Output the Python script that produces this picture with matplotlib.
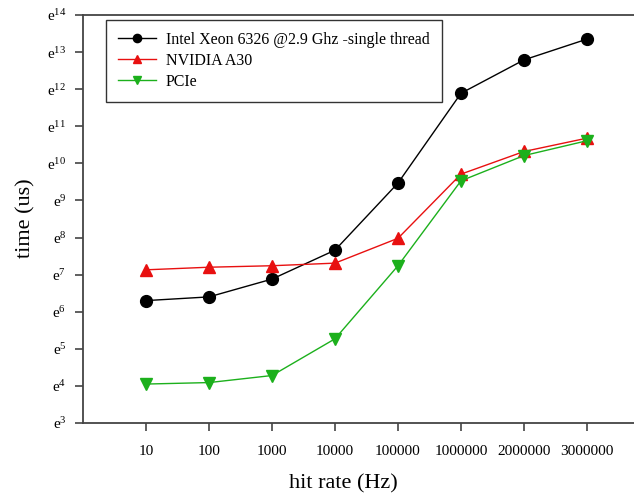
import numpy as np
import matplotlib
matplotlib.use("Agg")
import matplotlib.pyplot as plt
from matplotlib.ticker import FixedLocator, FuncFormatter, NullLocator

# ----------------------------------------------------------------------------
#  DATA  (in ln(us))
# ----------------------------------------------------------------------------
hit_rates = ['10', '100', '1000', '10000', '100000', '1000000', '2000000', '3000000']
cpu_ln    = [6.30, 6.40, 6.88, 7.66, 9.47, 11.89, 12.79, 13.35]
gpu_ln    = [7.13, 7.20, 7.24, 7.31, 7.98, 9.71, 10.32, 10.68]
pcie_ln   = [4.05, 4.09, 4.28, 5.27, 7.24, 9.53, 10.21, 10.61]
series_labels = ['Intel Xeon 6326 @2.9 Ghz -single thread', 'NVIDIA A30', 'PCIe']
y_exponents = list(range(3, 15))

# ----------------------------------------------------------------------------
#  PLOT
# ----------------------------------------------------------------------------
plt.rcParams['font.family'] = ['Liberation Serif', 'DejaVu Serif']
plt.rcParams['mathtext.fontset'] = 'custom'
plt.rcParams['mathtext.rm'] = 'Liberation Serif'
plt.rcParams['mathtext.it'] = 'Liberation Serif:italic'

fig = plt.figure(figsize=(6.34, 4.95), dpi=100)
# axes runs past the right edge of the picture, as in the original crop
ax = fig.add_axes([83/634, 72/495, 567/634, 408/495])

x = np.arange(len(hit_rates))
ax.plot(x, np.exp(cpu_ln), color='black', marker='o', markersize=8.5, lw=1.0,
        label=series_labels[0])
ax.plot(x, np.exp(gpu_ln), color='#e81010', marker='^', markersize=8, lw=1.0,
        label=series_labels[1])
ax.plot(x, np.exp(pcie_ln), color='#1cb01c', marker='v', markersize=8, lw=1.0,
        label=series_labels[2])

ax.set_yscale('log', base=np.e)
ax.set_ylim(np.exp(3), np.exp(14))
ax.yaxis.set_major_locator(FixedLocator(np.exp(y_exponents)))
ax.yaxis.set_minor_locator(NullLocator())
ax.yaxis.set_major_formatter(FuncFormatter(
    lambda v, p: 'e$^{%d}$' % int(round(np.log(v)))))

ax.set_xlim(-1, len(hit_rates))
ax.set_xticks(x)
ax.set_xticklabels(hit_rates)

ax.tick_params(axis='both', direction='out', length=6, width=1.2,
               color='#444444', labelsize=11, pad=6)
ax.tick_params(axis='x', pad=10)
for side in ['left', 'bottom', 'top', 'right']:
    ax.spines[side].set_linewidth(1.3)
    ax.spines[side].set_color('#444444')

ax.set_xlabel('hit rate (Hz)', fontsize=16)
ax.set_ylabel('time (us)', fontsize=16)
ax.xaxis.set_label_coords(0.46, -0.125)
ax.yaxis.set_label_coords(-0.083, 0.502)

leg = ax.legend(loc='upper left', bbox_to_anchor=(23/567, 1 - 5/408),
                borderaxespad=0, fontsize=11.5, frameon=True, fancybox=False,
                edgecolor='black', handlelength=2.4, borderpad=0.75,
                labelspacing=0.3, handletextpad=0.6, markerscale=0.7)
leg.get_frame().set_linewidth(1.0)

fig.savefig('out.png', dpi=100)
